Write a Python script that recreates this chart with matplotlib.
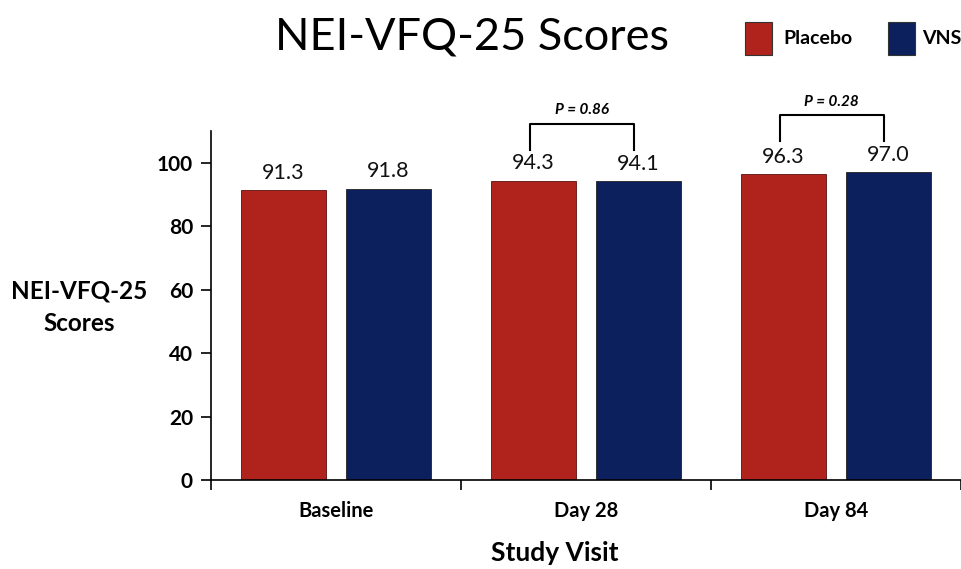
import matplotlib
matplotlib.use("Agg")
import matplotlib.pyplot as plt
import numpy as np

categories = ["Baseline", "Day 28", "Day 84"]
placebo = [91.3, 94.3, 96.3]
vns = [91.8, 94.1, 97.0]
p_values = [None, "P = 0.86", "P = 0.28"]
series_names = ["Placebo", "VNS"]
yticks = [0, 20, 40, 60, 80, 100]

RED = "#B0231C"
NAVY = "#0B205C"
FONT = ["Lato", "DejaVu Sans"]
plt.rcParams["font.family"] = FONT

fig = plt.figure(figsize=(9.62, 5.69), dpi=100)
ax = fig.add_axes([0.2193, 0.1564, 0.7797, 0.6134])

x = np.arange(len(categories))
w = 0.34
off = 0.21
ax.bar(x - off, placebo, w, color=RED, edgecolor="#5a1010", linewidth=0.6)
ax.bar(x + off, vns, w, color=NAVY, edgecolor="#222222", linewidth=0.6)

for xi, v in zip(x - off, placebo):
    ax.text(xi, v + 2.4, f"{v:.1f}", ha="center", va="bottom", fontsize=15.5, color="#111111")
for xi, v in zip(x + off, vns):
    ax.text(xi, v + 2.4, f"{v:.1f}", ha="center", va="bottom", fontsize=15.5, color="#111111")

# significance brackets
for i, p in enumerate(p_values):
    if p is None:
        continue
    top = max(placebo[i], vns[i]) + 18.0
    bot = top - 8.2
    xl = x[i] - 0.225
    xr = x[i] + 0.19
    ax.plot([xl, xl, xr, xr], [bot, top, top, bot], color="black", lw=1.5, clip_on=False)
    ax.text((xl + xr) / 2, top + 2.0, p, ha="center", va="bottom", fontsize=11,
            fontweight="bold", fontstyle="italic")

ax.set_xlim(-0.5, 2.5)
ax.set_ylim(0, 110)
ax.set_yticks(yticks)
ax.set_yticklabels([str(t) for t in yticks], fontsize=15, fontweight="bold")
ax.set_xticks([-0.5, 0.5, 1.5, 2.5])
ax.set_xticklabels([])
ax.set_xticks(x, minor=True)
ax.set_xticklabels(categories, minor=True, fontsize=14.5, fontweight="bold")
ax.tick_params(axis="x", which="minor", length=0, pad=15)
ax.tick_params(axis="x", which="major", length=7, width=1.2, direction="out")
ax.tick_params(axis="y", length=7, width=1.2, direction="out", pad=6)
for s in ["top", "right"]:
    ax.spines[s].set_visible(False)
for s in ["left", "bottom"]:
    ax.spines[s].set_linewidth(1.2)

fig.text(0.491, 0.935, "NEI-VFQ-25 Scores", ha="center", va="center", fontsize=32.5)
fig.text(0.0825, 0.46, "NEI-VFQ-25\nScores", ha="center", va="center", fontsize=17.5,
         fontweight="bold", linespacing=1.45)
fig.text(0.577, 0.028, "Study Visit", ha="center", va="center", fontsize=19, fontweight="bold")

# legend
from matplotlib.patches import Rectangle
for (name, col, px, tx) in [(series_names[0], RED, 745, 783), (series_names[1], NAVY, 888, 922)]:
    fig.patches.append(Rectangle((px / 962, 1 - 55 / 569), 27 / 962, 33 / 569,
                                 transform=fig.transFigure, facecolor=col,
                                 edgecolor="#333333", linewidth=0.8))
    fig.text(tx / 962, 1 - 39 / 569, name, ha="left", va="center", fontsize=14,
             fontweight="bold")

fig.savefig("out.png", dpi=100)
